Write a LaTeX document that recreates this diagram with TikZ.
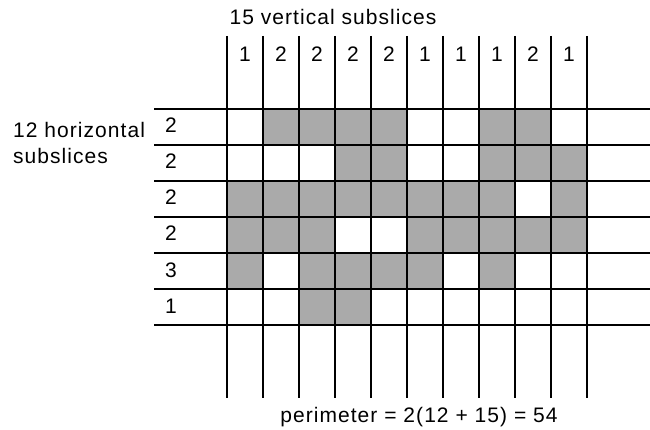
\documentclass[tikz,border=0pt]{standalone}
\usepackage{fontspec}
\setmainfont{Liberation Sans}[LetterSpace=5]
\usepackage{tikz}
\usetikzlibrary{positioning}
\definecolor{cellgray}{HTML}{AAAAAA}
\tikzset{
  gridline/.style={line width=1.8pt,draw=black},
  cell/.style    ={fill=cellgray},
  lbl/.style     ={font=\fontsize{21}{26}\selectfont,inner sep=0pt,anchor=base}
}

\begin{document}
\begin{tikzpicture}[x=1pt,y=-1pt]
  \useasboundingbox (0,0) rectangle (650,430);
  % shaded cells, row by row
  \foreach \r/\cols in {1/{2,3,4,5,8,9},2/{4,5,8,9,10},3/{1,2,3,4,5,6,7,8,10},
                        4/{1,2,3,6,7,8,9,10},5/{1,3,4,5,6,8},6/{3,4}}
    \foreach \c in \cols
      \fill[cell] (191+36*\c,73+36*\r) rectangle ++(36,36);
  % grid
  \foreach \i in {0,...,10}
    \draw[gridline] (227+36*\i,36) -- (227+36*\i,398);
  \foreach \j in {0,...,6}
    \draw[gridline] (154,109+36*\j) -- (650,109+36*\j);
  % labels
  \node[lbl] (vtitle) at (333,25) {15 vertical subslices};
  \foreach \n [count=\i] in {1,2,2,2,2,1,1,1,2,1}
    \node[lbl] (col\i) at (209+36*\i,62) {\n};
  \foreach \n [count=\j] in {2,2,2,2,3,1}
    \node[lbl] (row\j) at (171,97+36*\j) {\n};
  \node[lbl,align=left,anchor=north west] (htitle) at (13,122)
    {12 horizontal\\subslices};
  \node[lbl] (perim) at (419,422) {perimeter = 2(12 + 15) = 54};
\end{tikzpicture}
\end{document}
